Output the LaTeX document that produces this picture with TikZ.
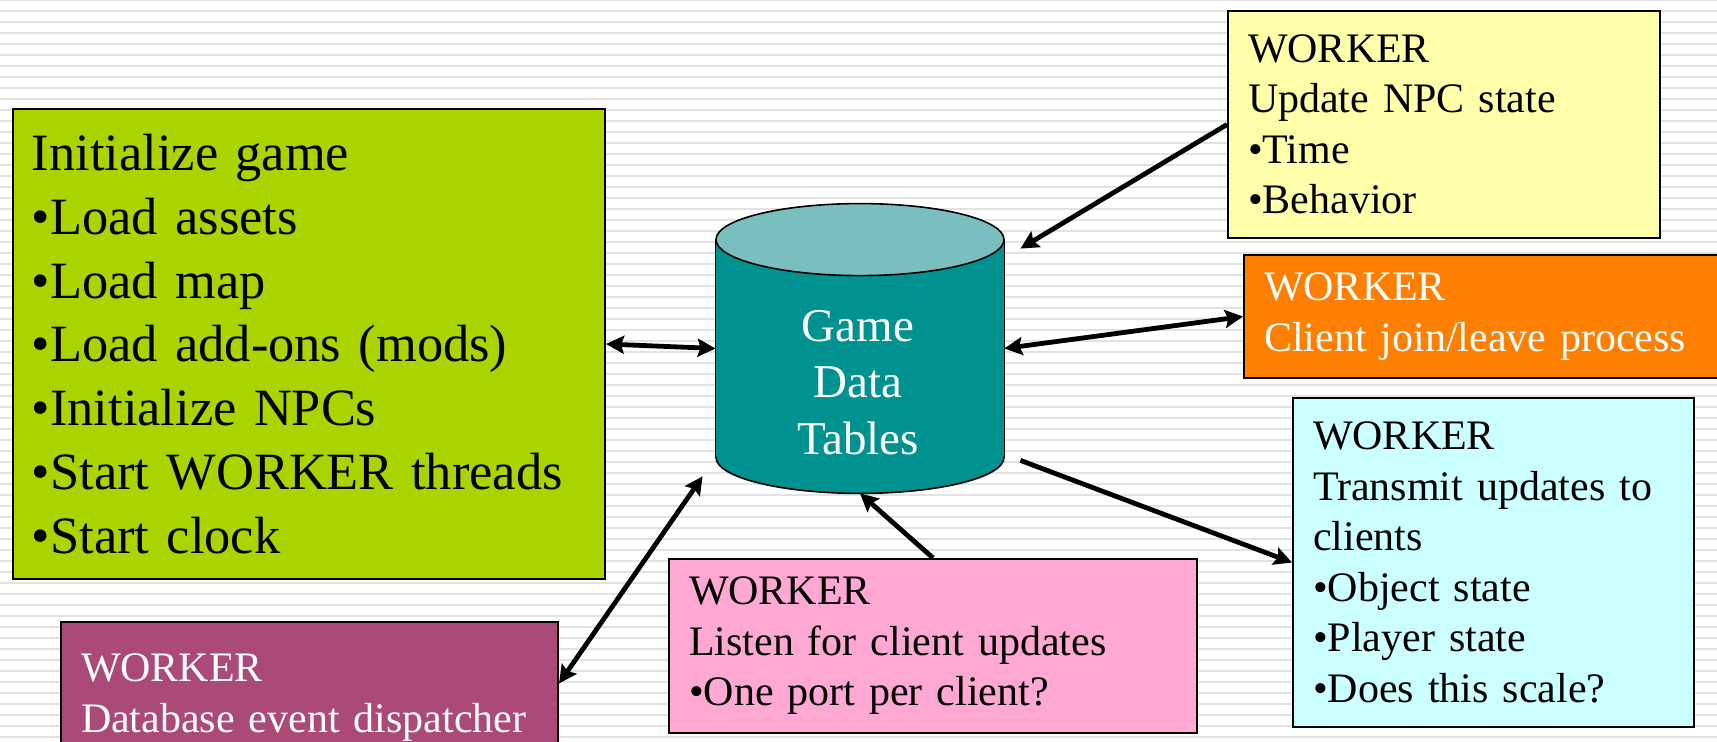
\documentclass[tikz,border=0pt]{standalone}
\usepackage{fontspec}
\setmainfont{Liberation Serif}
\usetikzlibrary{arrows.meta,calc}
\definecolor{stripecol}{RGB}{226,226,226}
\definecolor{greenfill}{RGB}{170,212,0}
\definecolor{tealbody}{RGB}{0,145,145}
\definecolor{tealtop}{RGB}{122,191,191}
\definecolor{yellowfill}{RGB}{255,255,170}
\definecolor{orangefill}{RGB}{255,128,0}
\definecolor{cyanfill}{RGB}{204,255,255}
\definecolor{pinkfill}{RGB}{255,168,212}
\definecolor{purplefill}{RGB}{171,74,120}
\begin{document}
\begin{tikzpicture}[x=0.5pt,y=-0.5pt,
  >={Stealth[length=9pt,width=9pt,inset=1.5pt]},
  box/.style={draw=black, line width=1pt, rectangle, anchor=north west, align=left,
              inner xsep=10pt, inner ysep=0pt},
  wfont/.style={font=\fontsize{21}{25.25}\selectfont},
  conn/.style={line width=2.4pt, draw=black},
  cylline/.style={draw=black, line width=0.8pt}]
\useasboundingbox (0,0) rectangle (1717,742);
% striped background
\foreach \k in {0,...,68} {
  \fill[stripecol] (0,{11*\k-1}) rectangle (1717,{11*\k+1});
}
% database cylinder
\node (db) [minimum width=144pt, minimum height=144.5pt, inner sep=0pt] at (860,348.5) {};
\fill[tealbody, cylline] ($(db.south)+(0,-36)$) ellipse [x radius=144, y radius=36];
\fill[tealbody] ($(db.north west)+(0,36)$) rectangle ($(db.south east)+(0,-36)$);
\draw[cylline] ($(db.north west)+(0,36)$) -- ($(db.south west)+(0,-36)$);
\draw[cylline] ($(db.north east)+(0,36)$) -- ($(db.south east)+(0,-36)$);
\filldraw[fill=tealtop, cylline] ($(db.north)+(0,36)$) ellipse [x radius=144, y radius=36];
\node (dbtext) [align=center, text=white, inner sep=0pt, font=\fontsize{23.5}{28.25}\selectfont]
  at ($(db.center)+(-2,34)$) {Game\\Data\\Tables};
% boxes
\node (init) [box, fill=greenfill, minimum width=296pt, minimum height=235pt, text width=277pt,
  inner xsep=9.5pt, font=\fontsize{26.2}{31.85}\selectfont] at (12,108)
  {Initialize game\\•Load assets\\•Load map\\•Load add-ons (mods)\\•Initialize NPCs\\•Start WORKER threads\\•Start clock};
\node (npc) [box, wfont, fill=yellowfill, minimum width=216pt, minimum height=113.5pt, text width=196pt] at (1227,10)
  {WORKER\\Update NPC state\\•Time\\•Behavior};
\node (join) [box, wfont, fill=orangefill, text=white, minimum width=258.5pt, minimum height=61.5pt, text width=238.5pt] at (1243,254)
  {WORKER\\Client join/leave process};
\node (transmit) [box, wfont, fill=cyanfill, minimum width=200.5pt, minimum height=164.5pt, text width=180.5pt] at (1292,397)
  {WORKER\\Transmit updates to\\clients\\•Object state\\•Player state\\•Does this scale?};
\node (listen) [box, wfont, fill=pinkfill, minimum width=264pt, minimum height=87pt, text width=244pt] at (668,558)
  {WORKER\\Listen for client updates\\•One port per client?};
\node (dispatch) [box, wfont, fill=purplefill, text=white, minimum width=248.5pt, minimum height=75.5pt, text width=228.5pt] at (60,621)
  {WORKER\\Database event dispatcher};
% connectors
\draw[conn, <->] (init.east) -- (db.west);
\draw[conn, ->] (npc.west) -- ($(db.north east)+(16,45)$);
\draw[conn, <->] (join.west) -- (db.east);
\draw[conn, ->] ($(db.south east)+(16,-33)$) -- (transmit.west);
\draw[conn, ->] (listen.north) -- (db.south);
\draw[conn, <->] ($(dispatch.east)+(0,-14)$) -- ($(db.south west)+(-13,-17)$);
\end{tikzpicture}
\end{document}
